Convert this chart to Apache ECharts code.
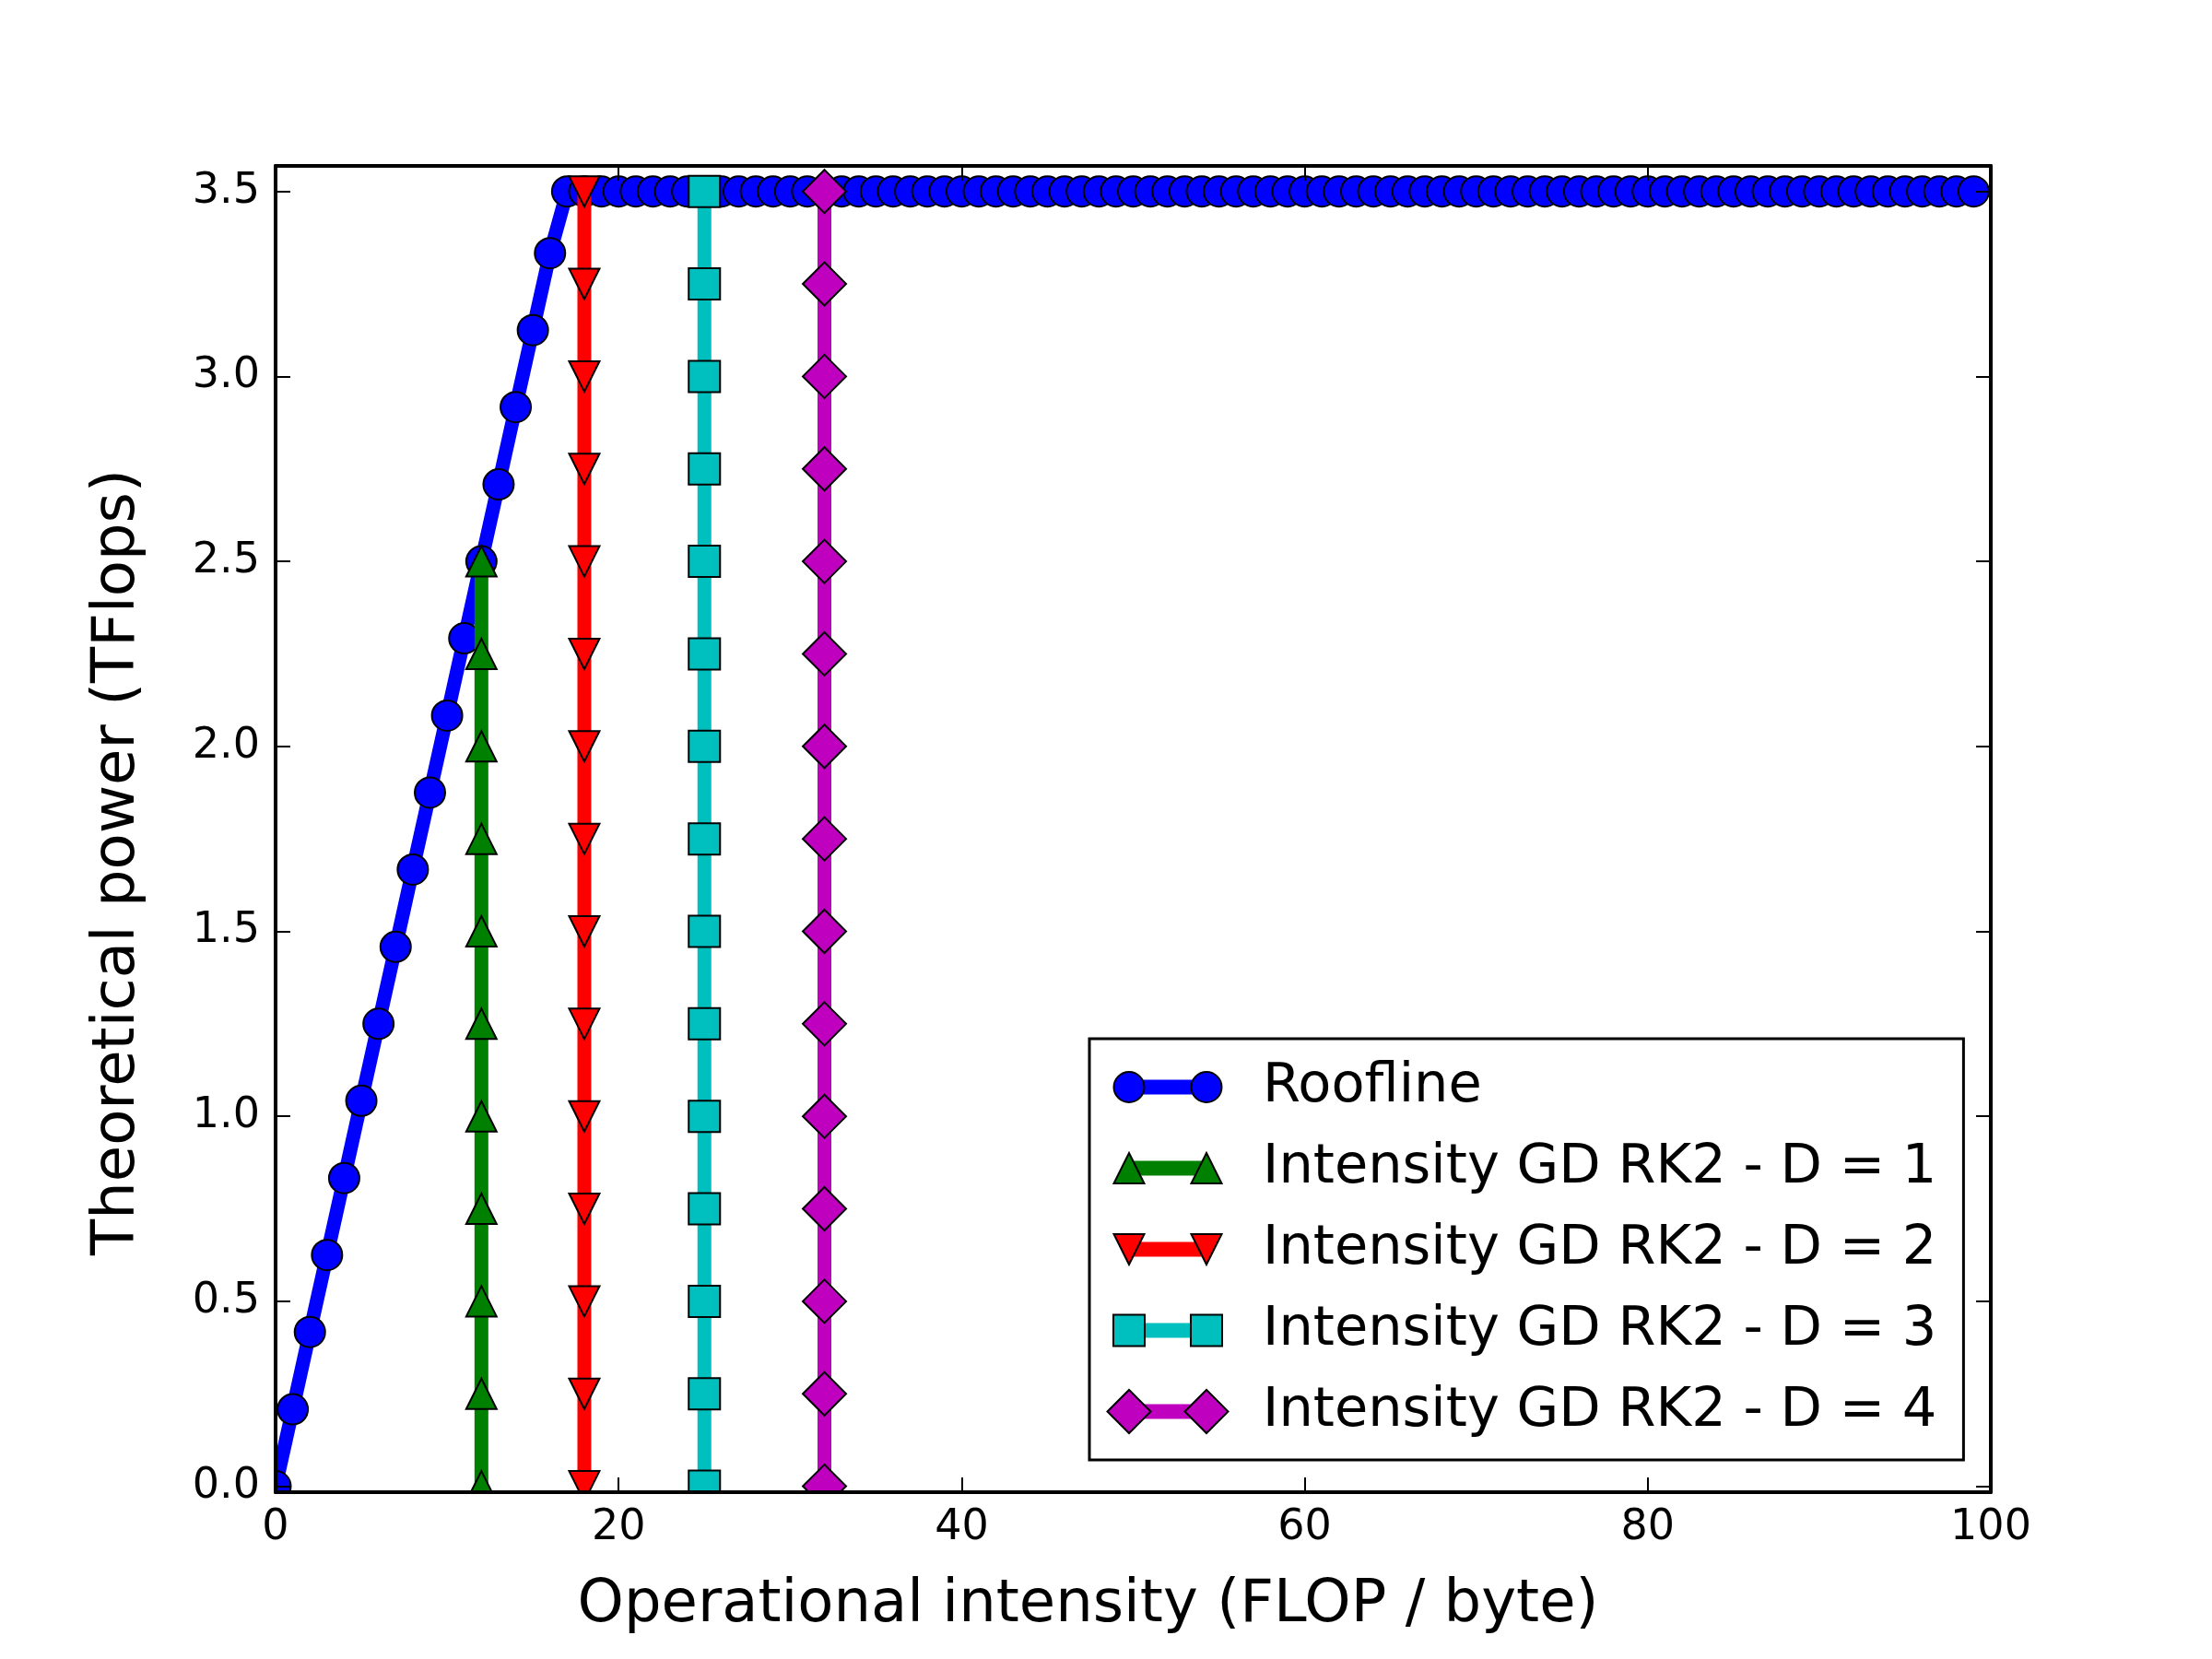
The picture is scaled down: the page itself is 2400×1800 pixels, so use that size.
<!DOCTYPE html>
<html lang="en">
<head>
<meta charset="UTF-8">
<title>Roofline</title>
<script src="https://cdn.jsdelivr.net/npm/echarts@6/dist/echarts.min.js"></script>
<style>
  html, body { margin: 0; padding: 0; background: #fff; }
  #chart { width: 2400px; height: 1800px; }
</style>
</head>
<body>
<div id="chart"></div>
<script>
    // roofline samples (FLOP/byte -> TFlops)
    const rooflineX = [
        0, 1, 2, 3, 4, 5, 6, 7, 8, 9, 10, 11, 12, 13, 14, 15, 16, 17, 18, 19,
        20, 21, 22, 23, 24, 25, 26, 27, 28, 29, 30, 31, 32, 33, 34, 35, 36, 37, 38, 39,
        40, 41, 42, 43, 44, 45, 46, 47, 48, 49, 50, 51, 52, 53, 54, 55, 56, 57, 58, 59,
        60, 61, 62, 63, 64, 65, 66, 67, 68, 69, 70, 71, 72, 73, 74, 75, 76, 77, 78, 79,
        80, 81, 82, 83, 84, 85, 86, 87, 88, 89, 90, 91, 92, 93, 94, 95, 96, 97, 98, 99
    ];
    const rooflineY = [
        0, 0.208, 0.417, 0.625, 0.833, 1.042, 1.25, 1.458, 1.667, 1.875,
        2.083, 2.292, 2.5, 2.708, 2.917, 3.125, 3.333, 3.5, 3.5, 3.5,
        3.5, 3.5, 3.5, 3.5, 3.5, 3.5, 3.5, 3.5, 3.5, 3.5, 3.5, 3.5, 3.5, 3.5, 3.5, 3.5, 3.5, 3.5, 3.5, 3.5,
        3.5, 3.5, 3.5, 3.5, 3.5, 3.5, 3.5, 3.5, 3.5, 3.5, 3.5, 3.5, 3.5, 3.5, 3.5, 3.5, 3.5, 3.5, 3.5, 3.5,
        3.5, 3.5, 3.5, 3.5, 3.5, 3.5, 3.5, 3.5, 3.5, 3.5, 3.5, 3.5, 3.5, 3.5, 3.5, 3.5, 3.5, 3.5, 3.5, 3.5,
        3.5, 3.5, 3.5, 3.5, 3.5, 3.5, 3.5, 3.5, 3.5, 3.5, 3.5, 3.5, 3.5, 3.5, 3.5, 3.5, 3.5, 3.5, 3.5, 3.5
    ];

    // operational intensity of each GD RK2 kernel, and the levels drawn along it
    const intensityD = [12, 18, 25, 32];
    const levelsD1 = [0, 0.25, 0.5, 0.75, 1, 1.25, 1.5, 1.75, 2, 2.25, 2.5];
    const levelsFull = [0, 0.25, 0.5, 0.75, 1, 1.25, 1.5, 1.75, 2, 2.25, 2.5, 2.75, 3, 3.25, 3.5];

    const seriesNames = ['Roofline', 'Intensity GD RK2 - D = 1', 'Intensity GD RK2 - D = 2',
        'Intensity GD RK2 - D = 3', 'Intensity GD RK2 - D = 4'];
    const colors = ['#0000ff', '#008000', '#ff0000', '#00bfbf', '#bf00bf'];

    const xTicks = { min: 0, max: 100, interval: 20 };
    const yRange = { min: -0.016, max: 3.569, splitNumber: 7 };

    // layout
    const GRID = { left: 299, right: 240, top: 180, bottom: 181 };
    const FONT = 'DejaVu Sans';

    // legend icons: two markers (drawn with black edge) + a bar between them (no edge)
    const FRAME = 'M0 0M164 47';
    const markerIcons = [
        'M7.5 23.5A16.5 16.5 0 1 0 40.5 23.5A16.5 16.5 0 1 0 7.5 23.5Z M91.5 23.5A16.5 16.5 0 1 0 124.5 23.5A16.5 16.5 0 1 0 91.5 23.5Z',
        'M24 7L40.5 40L7.5 40Z M108 7L124.5 40L91.5 40Z',
        'M7.5 7L40.5 7L24 40Z M91.5 7L124.5 7L108 40Z',
        'M7 6.5L41 6.5L41 40.5L7 40.5Z M91 6.5L125 6.5L125 40.5L91 40.5Z',
        'M0.5 23.5L24 0L47.5 23.5L24 47Z M84.5 23.5L108 0L131.5 23.5L108 47Z'
    ];
    const barIcon = 'M24 15.5L108 15.5L108 31.5L24 31.5Z';

    const markerStyle = { borderColor: '#000', borderWidth: 2 };

    const series = [];
    series.push({
        name: seriesNames[0],
        type: 'line',
        z: 2,
        data: rooflineX.map((x, i) => [x, rooflineY[i]]),
        symbol: 'circle',
        symbolSize: 33,
        lineStyle: { color: colors[0], width: 15 },
        itemStyle: Object.assign({ color: colors[0] }, markerStyle),
        emphasis: { disabled: true },
        animation: false
    });
    const shapes = [
        { symbol: 'triangle', size: 33, rotate: 0 },
        { symbol: 'triangle', size: 33, rotate: 180 },
        { symbol: 'rect', size: 34, rotate: 0 },
        { symbol: 'diamond', size: 47, rotate: 0 }
    ];
    intensityD.forEach((xd, k) => {
        const levels = k === 0 ? levelsD1 : levelsFull;
        series.push({
            name: seriesNames[k + 1],
            type: 'line',
            z: 3 + k,
            data: levels.map(y => [xd, y]),
            symbol: shapes[k].symbol,
            symbolSize: shapes[k].size,
            symbolRotate: shapes[k].rotate,
            lineStyle: { color: colors[k + 1], width: 15 },
            itemStyle: Object.assign({ color: colors[k + 1] }, markerStyle),
            emphasis: { disabled: true },
            animation: false
        });
    });

    const legendBase = {
        orient: 'vertical',
        left: 1182,
        top: 1127,
        padding: [23, 30, 23, 18],
        itemWidth: 164,
        itemHeight: 47,
        itemGap: 29,
        selectedMode: false
    };

    const legendBack = Object.assign({}, legendBase, {
        z: 12,
        backgroundColor: '#fff',
        borderColor: '#000',
        borderWidth: 3,
        borderRadius: 0,
        textStyle: { fontFamily: FONT, fontSize: 59, color: 'rgba(0,0,0,0)' },
        data: seriesNames.map((n, i) => ({
            name: n,
            icon: 'path://' + FRAME + barIcon,
            itemStyle: { color: colors[i], borderWidth: 0 }
        }))
    });

    const legendFront = Object.assign({}, legendBase, {
        z: 13,
        textStyle: { fontFamily: FONT, fontSize: 59, color: '#000' },
        data: seriesNames.map((n, i) => ({
            name: n,
            icon: 'path://' + FRAME + markerIcons[i],
            itemStyle: { color: colors[i], borderColor: '#000', borderWidth: 2 }
        }))
    });

    const axisLine = { show: true, onZero: false, lineStyle: { color: '#000', width: 4 } };
    const axisTick = { show: true, inside: true, length: 16, lineStyle: { color: '#000', width: 2 } };
    // only label the half-unit ticks (the extent ends are ticks too)
    const yLabel = v => (Math.abs(v * 2 - Math.round(v * 2)) < 1e-6 ? v.toFixed(1) : '');

    const myChart = echarts.init(document.getElementById('chart'), null, { renderer: 'canvas' });
    myChart.setOption({
        animation: false,
        textStyle: { fontFamily: FONT },
        grid: { left: GRID.left, right: GRID.right, top: GRID.top, bottom: GRID.bottom, containLabel: false },
        xAxis: [
            {
                type: 'value',
                position: 'bottom',
                z: 20,
                min: xTicks.min, max: xTicks.max, interval: xTicks.interval,
                name: 'Operational intensity (FLOP / byte)',
                nameLocation: 'middle',
                nameGap: 91,
                nameTextStyle: { fontFamily: FONT, fontSize: 64, lineHeight: 64, color: '#000', padding: [0, 98, 0, 0] },
                axisLine: axisLine,
                axisTick: axisTick,
                splitLine: { show: false },
                axisLabel: { fontFamily: FONT, fontSize: 46, lineHeight: 46, color: '#000', margin: 16 }
            },
            {
                type: 'value',
                position: 'top',
                z: 20,
                min: xTicks.min, max: xTicks.max, interval: xTicks.interval,
                axisLine: axisLine,
                axisTick: axisTick,
                splitLine: { show: false },
                axisLabel: { show: false }
            }
        ],
        yAxis: [
            {
                type: 'value',
                position: 'left',
                z: 20,
                min: yRange.min, max: yRange.max, splitNumber: yRange.splitNumber,
                name: 'Theoretical power (TFlops)',
                nameLocation: 'middle',
                nameGap: 139,
                nameTextStyle: { fontFamily: FONT, fontSize: 64, lineHeight: 64, color: '#000', padding: [0, 72, 0, 0] },
                axisLine: axisLine,
                axisTick: axisTick,
                splitLine: { show: false },
                axisLabel: {
                    fontFamily: FONT, fontSize: 46, lineHeight: 46, color: '#000', margin: 17,
                    formatter: yLabel
                }
            },
            {
                type: 'value',
                position: 'right',
                z: 20,
                min: yRange.min, max: yRange.max, splitNumber: yRange.splitNumber,
                axisLine: axisLine,
                axisTick: axisTick,
                splitLine: { show: false },
                axisLabel: { show: false }
            }
        ],
        legend: [legendBack, legendFront],
        // white masks outside the axes so markers sitting on the frame get clipped
        graphic: [
            {
                type: 'rect', z: 10, silent: true,
                shape: { x: 0, y: 1800 - GRID.bottom, width: 2400, height: GRID.bottom },
                style: { fill: '#fff' }
            },
            {
                type: 'rect', z: 10, silent: true,
                shape: { x: 0, y: 0, width: GRID.left, height: 1800 },
                style: { fill: '#fff' }
            }
        ],
        series: series
    });
</script>
</body>
</html>
